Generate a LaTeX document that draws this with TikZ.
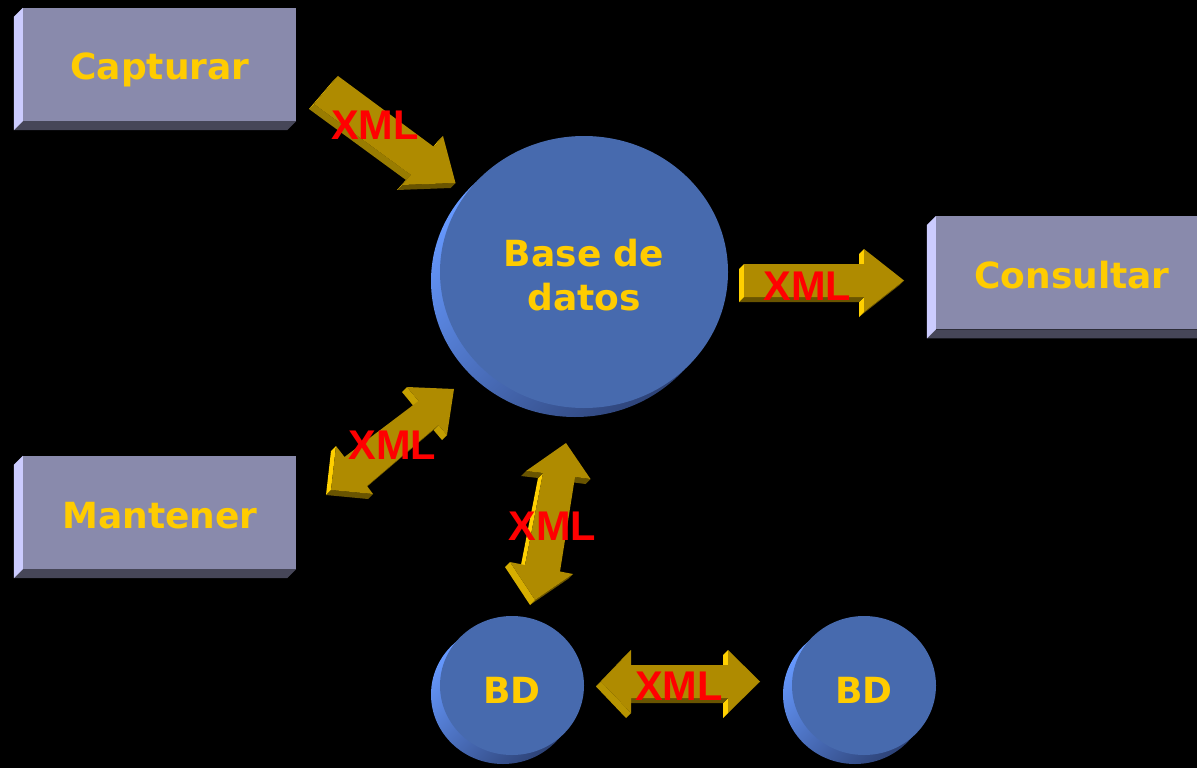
\documentclass[tikz,border=0pt]{standalone}
\usepackage{fontspec}
\setmainfont{DejaVu Sans}
\newfontfamily\xmlfont{Liberation Sans}
\usetikzlibrary{shapes.geometric,calc}

\definecolor{boxface}{RGB}{137,138,172}
\definecolor{boxleft}{RGB}{204,204,255}
\definecolor{boxbottom}{RGB}{70,70,88}
\definecolor{dbface}{RGB}{71,106,174}
\definecolor{dbsidelight}{RGB}{102,153,255}
\definecolor{dbsidedark}{RGB}{45,66,118}
\definecolor{labelgold}{RGB}{255,204,0}
\definecolor{xmlred}{RGB}{255,0,0}
\definecolor{arrowface}{RGB}{175,139,0}
\definecolor{arrowlight}{RGB}{255,208,0}
\definecolor{arrowdark}{RGB}{105,84,0}

\tikzset{
  procbox/.style={rectangle, fill=boxface, minimum width=273pt, minimum height=113pt, inner sep=0pt},
  dbdisk/.style={ellipse, fill=dbface, inner sep=0pt},
  diskside/.style={left color=dbsidelight, right color=dbsidedark, shading angle=45},
  goldlabel/.style={text=labelgold, font=\fontsize{36}{44}\selectfont\bfseries, inner sep=0pt, anchor=base},
  xmllabel/.style={text=xmlred, font=\xmlfont\fontsize{41.5}{48}\selectfont\bfseries, inner sep=0pt},
}

% one extruded side face of a block arrow; edge (#1,#2)->(#3,#4), outline taken clockwise
\newcommand\arrowside[4]{%
  \pgfmathsetmacro\sdx{#3-(#1)}%
  \pgfmathsetmacro\sdy{#4-(#2)}%
  \pgfmathsetmacro\sang{mod(atan2(0-(\sdx),\sdy)+360,360)}%
  \pgfmathtruncatemacro\svis{(\sang>45)&&(\sang<225)}%
  \ifnum\svis=1
    \pgfmathtruncatemacro\smix{max(0,min(100,(\sang-110)*2))}%
    \fill[arrowlight!\smix!arrowdark] (#1,#2) -- (#3,#4) -- ({#3-5},{#4+5}) -- ({#1-5},{#2+5}) -- cycle;
  \fi}

% block arrow: side faces first, then the front face
\newcommand\blockarrow[1]{%
  \foreach \px/\py [count=\k] in {#1}{%
    \ifnum\k=1 \xdef\fxx{\px}\xdef\fyy{\py}%
    \else \arrowside{\lxx}{\lyy}{\px}{\py}\fi
    \xdef\lxx{\px}\xdef\lyy{\py}}%
  \arrowside{\lxx}{\lyy}{\fxx}{\fyy}%
  \gdef\apath{}%
  \foreach \px/\py in {#1}{\xdef\apath{\apath(\px,\py)--}}%
  \fill[arrowface] \apath cycle;}

\begin{document}
\begin{tikzpicture}[x=1pt,y=-1pt]
\useasboundingbox (0,0) rectangle (1197,768);
\clip (0,0) rectangle (1197,768);
\fill[black] (0,0) rectangle (1197,768);

% process boxes with bevelled left and bottom faces
\node[procbox] (cap) at (159.5,64.5) {};
\node[procbox] (mant) at (159.5,512.5) {};
\node[procbox, minimum width=272pt] (cons) at (1072,272.75) {};
\foreach \b in {cap,mant,cons}{
  \fill[boxbottom] (\b.south west) -- (\b.south east) -- ($(\b.south east)+(-9,9)$) -- ($(\b.south west)+(-9,9)$) -- cycle;
  \fill[boxleft] (\b.north west) -- (\b.south west) -- ($(\b.south west)+(-9,9)$) -- ($(\b.north west)+(-9,9)$) -- cycle;
}
\node[goldlabel] (captxt) at (160,80) {Capturar};
\node[goldlabel] (manttxt) at (160,528) {Mantener};
\node[goldlabel] (constxt) at (1072,288.3) {Consultar};

% database disks
\shade[diskside] (575,281) ellipse [x radius=144pt, y radius=136pt];
\node[dbdisk, minimum width=288pt, minimum height=272pt] (db) at (584,272) {};
\shade[diskside] (503,694.5) ellipse [x radius=72pt, y radius=69.5pt];
\node[dbdisk, minimum width=144pt, minimum height=139pt] (bda) at (512,685.5) {};
\shade[diskside] (855,694.5) ellipse [x radius=72pt, y radius=69.5pt];
\node[dbdisk, minimum width=144pt, minimum height=139pt] (bdb) at (864,685.5) {};
\node[goldlabel] (dbtxta) at (584,266) {Base de};
\node[goldlabel] (dbtxtb) at (584,310) {datos};
\node[goldlabel] (bdatxt) at (512,703) {BD};
\node[goldlabel] (bdbtxt) at (864,703) {BD};

% XML exchange arrows
\blockarrow{338/76, 434/147, 443/136, 455.5/183, 402/185, 411/175, 314/104}
\blockarrow{744/264, 864/264, 864/249, 904/280.5, 864/312, 864/297, 744/297}
\blockarrow{331/490, 336/446, 344.5/457, 418.5/401, 407/387, 454/389, 447/435, 438.5/425, 367/486, 373/494}
\blockarrow{566/443, 590.5/479, 575/477, 560/571.5, 573/574, 535/600, 510/562, 525/565, 543/473, 526/471}
\blockarrow{601/681.5, 631/650, 631/665, 728/665, 728/650, 760/681.5, 728/713, 728/698, 631/698, 631/713}

\node[xmllabel] (xa) at (375,125) {XML};
\node[xmllabel] (xb) at (807.5,286) {XML};
\node[xmllabel] (xc) at (392.5,445.5) {XML};
\node[xmllabel] (xd) at (552.5,526.7) {XML};
\node[xmllabel] (xe) at (679,686) {XML};
\end{tikzpicture}
\end{document}
